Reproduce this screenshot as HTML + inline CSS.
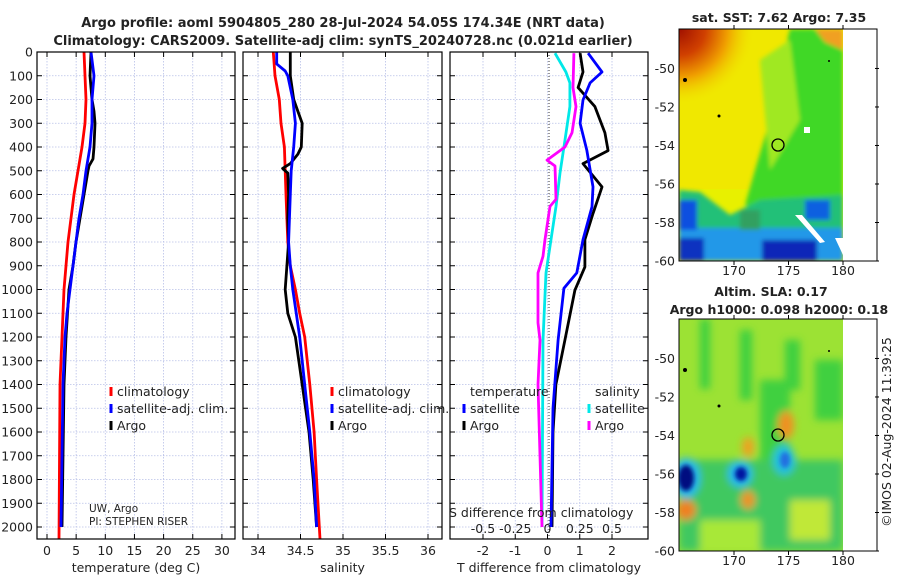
<!DOCTYPE html>
<html><head><meta charset="utf-8"><style>
body{margin:0;background:#fff;width:900px;height:580px;overflow:hidden}
svg text{font-family:"DejaVu Sans","Liberation Sans",sans-serif;fill:#222}
</style></head><body>
<svg id="fig" width="900" height="580" viewBox="0 0 900 580" xmlns="http://www.w3.org/2000/svg">
<defs>
<radialGradient id="rg1" gradientUnits="userSpaceOnUse" cx="679" cy="29" r="75"><stop offset="0" stop-color="#a01000"/><stop offset="0.35" stop-color="#d04000"/><stop offset="0.65" stop-color="#f0a000"/><stop offset="1" stop-color="#f0e000" stop-opacity="0"/></radialGradient>
<filter id="bl" x="-50%" y="-50%" width="200%" height="200%"><feGaussianBlur stdDeviation="4"/></filter>
<filter id="bl2" x="-50%" y="-50%" width="200%" height="200%"><feGaussianBlur stdDeviation="2"/></filter>
<clipPath id="c1"><rect x="679" y="29" width="164" height="232"/></clipPath>
<clipPath id="c2"><rect x="679" y="319" width="164" height="232"/></clipPath>
</defs>
<text x="343" y="27" text-anchor="middle" font-size="13" font-weight="bold">Argo profile: aoml 5904805_280 28-Jul-2024 54.05S 174.34E (NRT data)</text>
<text x="343" y="45" text-anchor="middle" font-size="13" font-weight="bold">Climatology: CARS2009. Satellite-adj clim: synTS_20240728.nc (0.021d earlier)</text>

<!-- SST map -->
<g clip-path="url(#c1)">
<rect x="679" y="29" width="164" height="232" fill="#e8f000"/>
<rect x="679" y="29" width="120" height="160" fill="#f0e800"/>
<rect x="679" y="29" width="80" height="80" fill="url(#rg1)"/>
<g filter="url(#bl2)">
<polygon points="790,29 843,29 843,200 780,215 745,205 755,170 770,120 780,70" fill="#40d828"/>
<polygon points="760,60 790,40 800,120 770,170" fill="#a0e820"/>
<polygon points="815,29 843,29 843,50 825,42" fill="#f0a020"/>
<polygon points="679,190 700,192 730,215 760,200 843,195 843,235 679,235" fill="#20c078"/>
<rect x="679" y="228" width="164" height="33" fill="#2098e8"/>
<rect x="679" y="200" width="18" height="30" fill="#1050e0"/>
<rect x="679" y="238" width="25" height="23" fill="#1030c0"/>
<rect x="762" y="240" width="55" height="21" fill="#1028b8"/>
<rect x="805" y="200" width="25" height="20" fill="#1060e0"/>
<rect x="740" y="210" width="20" height="20" fill="#30a060"/>
</g>
<polygon points="795,215 802,215 825,242 820,243" fill="#fff"/>
<polygon points="835,238 843,238 843,255" fill="#fff"/>
<rect x="804" y="127" width="6" height="6" fill="#fff"/>
<rect x="843" y="29" width="40" height="232" fill="#fff"/>
<circle cx="685" cy="80" r="2" fill="#000"/><circle cx="719" cy="116" r="1.5" fill="#000"/><circle cx="829" cy="61" r="1" fill="#000"/>
</g>
<circle cx="778" cy="145" r="6" fill="none" stroke="#000" stroke-width="1.3"/>

<!-- SLA map -->
<g clip-path="url(#c2)">
<rect x="679" y="319" width="164" height="232" fill="#9ce234"/>
<g filter="url(#bl)">
<rect x="700" y="319" width="10" height="70" fill="#40d040"/><rect x="740" y="330" width="12" height="70" fill="#40d040"/>
<rect x="785" y="340" width="15" height="50" fill="#40d040"/><rect x="815" y="360" width="28" height="60" fill="#40d040"/>
<rect x="679" y="460" width="164" height="91" fill="#40c860"/>
<rect x="760" y="380" width="30" height="80" fill="#40d040"/>
<rect x="700" y="520" width="60" height="31" fill="#a8e838"/>
<rect x="790" y="500" width="40" height="40" fill="#c0e838"/>
<ellipse cx="786" cy="425" rx="8" ry="14" fill="#f09020"/>
<ellipse cx="748" cy="447" rx="6" ry="10" fill="#f0a020"/>
<ellipse cx="748" cy="500" rx="7" ry="9" fill="#f09020"/>
<ellipse cx="686" cy="510" rx="10" ry="10" fill="#f08020"/>
<ellipse cx="784" cy="460" rx="11" ry="15" fill="#20c0e0"/>
<ellipse cx="686" cy="478" rx="14" ry="20" fill="#20b8f0"/>
<ellipse cx="740" cy="474" rx="12" ry="13" fill="#20b8f0"/>
</g>
<ellipse cx="785" cy="460" rx="5" ry="8" fill="#2070e0" filter="url(#bl2)"/>
<ellipse cx="686" cy="478" rx="8" ry="13" fill="#000c80" filter="url(#bl2)"/>
<ellipse cx="741" cy="474" rx="6" ry="7" fill="#0018a0" filter="url(#bl2)"/>
<rect x="843" y="319" width="40" height="232" fill="#fff"/>
<circle cx="685" cy="370" r="2" fill="#000"/><circle cx="719" cy="406" r="1.5" fill="#000"/><circle cx="829" cy="351" r="1" fill="#000"/>
</g>
<circle cx="778" cy="435" r="6" fill="none" stroke="#000" stroke-width="1.3"/>

<text x="779" y="22" text-anchor="middle" font-size="12.5" font-weight="bold">sat. SST: 7.62 Argo: 7.35</text>
<text x="771" y="296" text-anchor="middle" font-size="12.5" font-weight="bold">Altim. SLA: 0.17</text>
<text x="779" y="314" text-anchor="middle" font-size="12.5" font-weight="bold">Argo h1000: 0.098 h2000: 0.18</text>
<text transform="translate(891,432) rotate(-90)" text-anchor="middle" font-size="12.5">©IMOS 02-Aug-2024 11:39:25</text>
<g id="axes"></g>
</svg>
<script>
// ---- data ----
const depthTicks=[0,100,200,300,400,500,600,700,800,900,1000,1100,1200,1300,1400,1500,1600,1700,1800,1900,2000];
const tempTicks=[0,5,10,15,20,25,30];
const salTicks=[34,34.5,35,35.5,36];
const salTickLabels=["34","34.5","35","35.5","36"];
const tdiffTicks=[-2,-1,0,1,2];
const sdiffTicks=[-0.5,-0.25,0,0.25,0.5];
const sdiffTickLabels=["-0.5","-0.25","0","0.25","0.5"];
const latTicks=[-50,-52,-54,-56,-58,-60];
const lonTicks=[170,175,180];

const tClimDepth=[0,200,300,400,500,600,700,800,900,1000,1100,1200,1400,2050];
const tClimVal=[6.35,6.69,6.52,6.0,5.32,4.63,4.12,3.6,3.26,2.92,2.74,2.57,2.23,2.06];
const tSatDepth=[0,100,200,300,400,500,600,700,800,900,1000,1100,1200,1300,1400,2000];
const tSatVal=[7.55,8.06,7.72,7.72,7.38,6.69,6.17,5.49,4.97,4.46,3.95,3.43,3.09,2.92,2.74,2.4];
const tArgoDepth=[0,100,200,250,300,400,450,480,500,600,700,800,900,1000,1200,1400,2000];
const tArgoVal=[7.55,7.38,7.72,8.06,8.23,8.06,7.89,7.2,7.03,6.35,5.66,4.97,4.46,3.77,3.26,2.92,2.57];

const sClimDepth=[0,100,200,300,400,500,600,700,800,900,1000,1100,1200,1400,1600,1800,2050];
const sClimVal=[34.18,34.20,34.25,34.27,34.31,34.32,34.33,34.34,34.35,34.38,34.44,34.49,34.55,34.61,34.66,34.69,34.73];
const sSatDepth=[0,50,80,100,200,300,400,500,600,800,900,1000,1200,1400,1600,1800,2000];
const sSatVal=[34.22,34.22,34.32,34.35,34.41,34.44,34.42,34.39,34.38,34.36,34.38,34.41,34.49,34.55,34.61,34.66,34.69];
const sArgoDepth=[0,100,200,250,300,400,430,470,490,510,600,700,800,900,1000,1100,1200,1400,1600,1800,2000];
const sArgoVal=[34.38,34.38,34.42,34.47,34.52,34.51,34.47,34.38,34.29,34.35,34.36,34.35,34.36,34.34,34.32,34.35,34.44,34.52,34.6,34.65,34.69];

const dtSatDepth=[5,84,130,202,300,413,568,652,790,930,995,1213,1500,2000];
const dtSatVal=[1.26,1.69,1.32,1.10,1.01,1.22,1.41,1.38,1.10,0.91,0.51,0.33,0.17,0.11];
const dtArgoDepth=[5,84,150,230,340,415,470,568,680,790,905,1003,1213,1400,1600,2000];
const dtArgoVal=[1.01,1.10,0.95,1.47,1.78,1.88,1.10,1.69,1.41,1.16,1.16,0.85,0.54,0.26,0.17,0.14];
const dsSatDepth=[5,84,130,230,370,510,650,790,930,1213,2000];
const dsSatVal=[0.058,0.143,0.174,0.174,0.136,0.097,0.066,0.027,-0.012,-0.035,-0.043];
const dsArgoDepth=[5,150,230,340,400,455,480,620,650,790,860,930,1140,1213,1400,2000];
const dsArgoVal=[0.205,0.198,0.221,0.19,0.136,-0.004,0.058,0.066,0.019,-0.019,-0.035,-0.074,-0.074,-0.058,-0.074,-0.043];

// ---- drawing ----
const NS='http://www.w3.org/2000/svg';
const root=document.getElementById('axes');
function el(tag,attrs,parent,txt){const e=document.createElementNS(NS,tag);for(const k in attrs)e.setAttribute(k,attrs[k]);if(txt!==undefined)e.textContent=txt;(parent||root).appendChild(e);return e;}
const Y0=52,YS=0.2375,YB=539;
function yOf(d){return Y0+d*YS;}
function makeX(x0,v0,scale){return v=>x0+(v-v0)*scale;}
const panels=[
 {name:'temperature-panel',L:37,R:235,x:makeX(47,0,5.83),ticks:tempTicks,labels:tempTicks.map(String),xlabel:'temperature (deg C)',ylabels:true},
 {name:'salinity-panel',L:243,R:442,x:makeX(258,34,85),ticks:salTicks,labels:salTickLabels,xlabel:'salinity',ylabels:false},
 {name:'difference-panel',L:450,R:648,x:makeX(547.5,0,32.25),ticks:tdiffTicks,labels:tdiffTicks.map(String),xlabel:'T difference from climatology',ylabels:false}
];
const xs3=makeX(547.5,0,129);
panels.forEach(p=>{
 const g=el('g',{});
 
 
 p.g=g;
 depthTicks.forEach(d=>{const l=el('line',{x1:p.L,x2:p.R,y1:yOf(d),y2:yOf(d),stroke:'#b8c0e8','stroke-width':0.8,'stroke-dasharray':'1.5,1.5'},g);
  
  el('line',{x1:p.L,x2:p.L+5,y1:yOf(d),y2:yOf(d),stroke:'#000'},g);el('line',{x1:p.R-5,x2:p.R,y1:yOf(d),y2:yOf(d),stroke:'#000'},g);
  if(p.ylabels){const t=el('text',{x:33,y:yOf(d)+4.5,'text-anchor':'end','font-size':12.5},g,String(d));}
 });
 p.ticks.forEach((v,i)=>{const X=p.x(v);
  const l=el('line',{x1:X,x2:X,y1:Y0,y2:YB,stroke:'#b8c0e8','stroke-width':0.8,'stroke-dasharray':'1.5,1.5'},g);
  
  el('line',{x1:X,x2:X,y1:YB-5,y2:YB,stroke:'#000'},g);el('line',{x1:X,x2:X,y1:Y0,y2:Y0+5,stroke:'#000'},g);
  const t=el('text',{x:X,y:555,'text-anchor':'middle','font-size':12.5},g,p.labels[i]);
 });
 const xl=el('text',{x:(p.L+p.R)/2,y:572,'text-anchor':'middle','font-size':12.5},g,p.xlabel);
 
});
const p3=panels[2];
sdiffTicks.forEach((v,i)=>{const X=xs3(v);
 const t=el('text',{x:X,y:533,'text-anchor':'middle','font-size':12.5},p3.g,sdiffTickLabels[i]);
 
});
const zl=el('line',{x1:549,x2:549,y1:Y0,y2:YB,stroke:'#333','stroke-width':1,'stroke-dasharray':'1,2'},p3.g);


function series(p,xf,depths,vals,color,name){
 const pts=depths.map((d,i)=>xf(vals[i]).toFixed(1)+','+yOf(d).toFixed(1)).join(' ');
 const l=el('polyline',{points:pts,fill:'none',stroke:color,'stroke-width':2.8,'stroke-linejoin':'round'},p.g);
 
 
}
series(panels[0],panels[0].x,tClimDepth,tClimVal,'#ff0000','temp-climatology-line');
series(panels[0],panels[0].x,tArgoDepth,tArgoVal,'#000','temp-argo-line');
series(panels[0],panels[0].x,tSatDepth,tSatVal,'#0000ff','temp-satellite-line');
series(panels[1],panels[1].x,sClimDepth,sClimVal,'#ff0000','sal-climatology-line');
series(panels[1],panels[1].x,sArgoDepth,sArgoVal,'#000','sal-argo-line');
series(panels[1],panels[1].x,sSatDepth,sSatVal,'#0000ff','sal-satellite-line');
series(p3,p3.x,dtArgoDepth,dtArgoVal,'#000','tdiff-argo-line');
series(p3,p3.x,dtSatDepth,dtSatVal,'#0000ff','tdiff-satellite-line');
series(p3,xs3,dsSatDepth,dsSatVal,'#00e8e8','sdiff-satellite-line');
series(p3,xs3,dsArgoDepth,dsArgoVal,'#ff00ff','sdiff-argo-line');
panels.forEach(p=>{const b=el('rect',{x:p.L,y:Y0,width:p.R-p.L,height:YB-Y0,fill:'none',stroke:'#000','stroke-width':1.2},p.g);});

function legend(g,x,y,items){items.forEach((it,i)=>{const yy=y+i*17;
 el('line',{x1:x,x2:x,y1:yy-5,y2:yy+4,stroke:it[1],'stroke-width':3},g);
 const t=el('text',{x:x+6,y:yy+4,'font-size':12.5},g,it[0]);
 });}
legend(panels[0].g,111,392,[['climatology','#ff0000'],['satellite-adj. clim.','#0000ff'],['Argo','#000']]);
legend(panels[1].g,332,392,[['climatology','#ff0000'],['satellite-adj. clim.','#0000ff'],['Argo','#000']]);
legend(p3.g,464,409,[['satellite','#0000ff'],['Argo','#000']]);
legend(p3.g,589,409,[['satellite','#00e8e8'],['Argo','#ff00ff']]);
[['temperature',470,396],['salinity',595,396],['S difference from climatology',449,517]].forEach(a=>{const t=el('text',{x:a[1],y:a[2],'font-size':12.5},p3.g,a[0]);});
const c1=el('text',{x:89,y:512,'font-size':10.5},panels[0].g,'UW, Argo');
const c2=el('text',{x:89,y:525,'font-size':10.5},panels[0].g,'PI: STEPHEN RISER');

[[29,261,'sst-map-axes',275],[319,551,'sla-map-axes',565]].forEach(m=>{
 const g=el('g',{});
 const top=m[0],bot=m[1],ys=(bot-top)/12.05;
 const latY=v=>bot-(v+60)*ys, lonX=v=>843-(180-v)*10.9;
 latTicks.forEach(v=>{const Y=latY(v);el('line',{x1:875,x2:879,y1:Y,y2:Y,stroke:'#000'},g);
  const t=el('text',{x:675,y:Y+4.5,'text-anchor':'end','font-size':12.5},g,String(v));});
 lonTicks.forEach(v=>{const X=lonX(v);el('line',{x1:X,x2:X,y1:bot,y2:bot+4,stroke:'#000'},g);el('line',{x1:X,x2:X,y1:top-4,y2:top,stroke:'#000'},g);
  const t=el('text',{x:X,y:m[3],'text-anchor':'middle','font-size':12.5},g,String(v));});
 el('rect',{x:679,y:top,width:198,height:bot-top,fill:'none',stroke:'#000','stroke-width':1},g);
});
</script>
</body></html>
